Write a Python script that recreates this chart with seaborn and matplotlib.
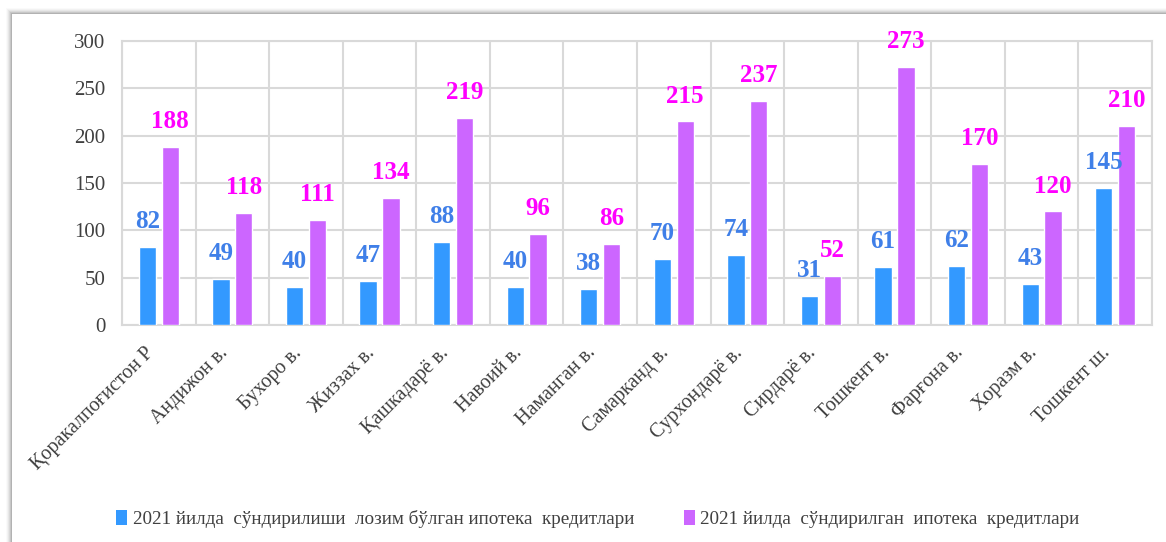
import pandas as pd
import matplotlib.pyplot as plt
import matplotlib.transforms as mtransforms
import seaborn as sns
import numpy as np
from matplotlib.patches import Rectangle, Patch

# Regions and values
regions = ['Қоракалпоғистон Р', 'Андижон в.', 'Бухоро в.', 'Жиззах в.', 'Қашкадарё в.',
           'Навоий в.', 'Наманган в.', 'Самарканд в.', 'Сурхондарё в.', 'Сирдарё в.',
           'Тошкент в.', 'Фарғона в.', 'Хоразм в.', 'Тошкент ш.']
planned = [82, 49, 40, 47, 88, 40, 38, 70, 74, 31, 61, 62, 43, 145]
repaid = [188, 118, 111, 134, 219, 96, 86, 215, 237, 52, 273, 170, 120, 210]
series = ['2021 йилда  сўндирилиши  лозим бўлган ипотека  кредитлари',
          '2021 йилда  сўндирилган  ипотека  кредитлари']

df = pd.DataFrame({
    'region': regions * 2,
    'value': planned + repaid,
    'series': [series[0]] * len(regions) + [series[1]] * len(regions),
})

sns.set_style('white')
plt.rcParams['font.family'] = ['Liberation Serif', 'DejaVu Serif']

bar_colors = ['#3399ff', '#cc66ff']
label_colors = ['#3f7fe8', '#ff00ff']
grid_c = '#d9d9d9'
text_c = '#404040'

fig = plt.figure(figsize=(11.66, 5.42), dpi=100)
fig.patch.set_facecolor('white')

# soft shadow frame around the chart box
W, H = 1166, 542
for i, a in enumerate([0.04, 0.06, 0.09, 0.12, 0.16, 0.2]):
    off = 6 - i
    fig.add_artist(Rectangle(((12 - off) / W, 0), 1, (H - 14 + off) / H,
                             transform=fig.transFigure, facecolor='black',
                             alpha=a * 0.5, edgecolor='none', zorder=0))
fig.add_artist(Rectangle((12 / W, 0), 1, (H - 14) / H, transform=fig.transFigure,
                         facecolor='white', edgecolor='none', zorder=0.5))

ax = fig.add_axes([122 / W, (H - 325) / H, (1152 - 122) / W, (325 - 41) / H])
ax.set_zorder(2)
ax.patch.set_alpha(0)

sns.barplot(data=df, x='region', y='value', hue='series', palette=bar_colors,
            width=0.62, gap=0.24, ax=ax, legend=False, saturation=1, zorder=3)

for cont, col in zip(ax.containers, label_colors):
    ax.bar_label(cont, padding=10, color=col, fontsize=18, fontweight='bold')

ax.set_ylim(0, 300)
ax.set_xlim(-0.5, len(regions) - 0.5)
ax.set_yticks(np.arange(0, 301, 50))
ax.set_xticks(np.arange(-0.5, len(regions), 1), minor=True)
ax.grid(True, axis='y', color=grid_c, linewidth=1.5, zorder=0)
ax.grid(True, axis='x', which='minor', color=grid_c, linewidth=1.5, zorder=0)
for s in ax.spines.values():
    s.set_color(grid_c)
    s.set_linewidth(1.5)
ax.tick_params(axis='both', which='both', length=0)
ax.tick_params(axis='y', labelsize=15, labelcolor=text_c, pad=12)
ax.tick_params(axis='x', labelsize=14.5, labelcolor=text_c, pad=6)
shift = mtransforms.ScaledTranslation(-14 / 100, -10 / 100, fig.dpi_scale_trans)
for lab in ax.get_xticklabels():
    lab.set_rotation(45)
    lab.set_ha('right')
    lab.set_rotation_mode('anchor')
    lab.set_transform(lab.get_transform() + shift)
ax.set_xlabel('')
ax.set_ylabel('')

handles = [Patch(facecolor=c, edgecolor='none') for c in bar_colors]
fig.legend(handles, series, loc='center', bbox_to_anchor=(598 / W, 23 / H), ncol=2,
           frameon=False, fontsize=13.8, labelcolor=text_c, handlelength=0.55,
           handleheight=0.85, handletextpad=0.3, columnspacing=2.6)

plt.savefig('out.png', dpi=100)
